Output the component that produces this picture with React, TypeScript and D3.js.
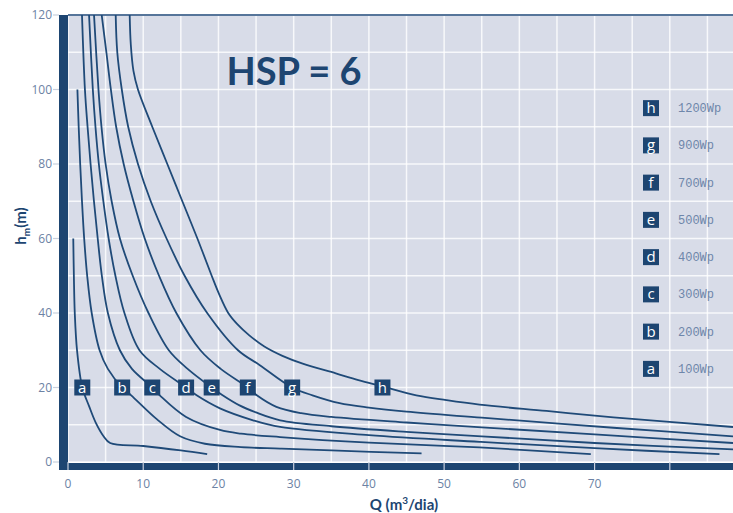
import * as d3 from "d3";

const WIDTH = 733;
const HEIGHT = 513;
const MARGIN = {top: 15, right: 0, bottom: 51, left: 68};

const NAVY = "#1d4571";
const LINE = "#1f4a78";
const BG = "#d8dce8";
const TICK_TEXT = "#6c82a4";

const Q_MAX = 88.4;
const H_MAX = 120;

const Q_TICKS = [0, 10, 20, 30, 40, 50, 60, 70];
const H_TICKS = [0, 20, 40, 60, 80, 100, 120];

const CURVE_KEYS = ["a", "b", "c", "d", "e", "f", "g", "h"];
const POWER_LABELS = ["100Wp", "200Wp", "300Wp", "400Wp", "500Wp", "700Wp", "900Wp", "1200Wp"];
const LABEL_Q = [1.9, 7.2, 11.2, 15.7, 19.1, 23.9, 29.8, 41.8];
const LABEL_H = 20;
const LEGEND_H = [25, 35, 45, 55, 65, 75, 85, 95];

// [Q (m3/dia), h (m)]
const curveA = [[0.7, 60], [0.78, 50], [0.9, 40], [1.2, 30], [1.9, 20], [2.8, 15], [3.7, 10.5], [4.7, 7], [5.6, 5.1], [10, 4.3], [15, 3.1], [18.5, 2.1]];
const curveB = [[1.25, 100], [1.42, 90], [1.62, 80], [1.86, 70], [2.15, 60], [2.55, 50], [3.15, 40], [4.2, 30], [5.3, 25], [7.2, 20], [8.4, 17.9], [11.8, 11.5], [14.9, 6.9], [18.2, 4.9], [23, 4.0], [28.2, 3.6], [35, 3.1], [47, 2.3]];
const curveC = [[1.86, 120], [2.25, 100], [2.6, 90], [3.0, 80], [3.45, 70], [3.95, 60], [4.5, 50], [5.3, 40], [6.9, 30], [8.5, 25], [11.2, 20], [12.2, 17.9], [15.7, 12.1], [20.2, 8.6], [23, 7.6], [28.2, 6.7], [40, 5.2], [54.7, 3.9], [69.5, 2.1]];
const curveD = [[2.8, 120], [3.3, 100], [3.65, 90], [4.1, 80], [4.7, 70], [5.4, 60], [6.3, 50], [7.5, 40], [9.5, 30], [12.2, 25], [15.7, 20], [17.1, 17.9], [20.2, 14.4], [24.6, 11.2], [28.2, 9.4], [40, 7.2], [54.7, 5.4], [70, 3.7], [86.6, 2.1]];
const curveE = [[3.46, 120], [4.05, 100], [4.45, 90], [5.0, 80], [5.8, 70], [6.9, 60], [8.6, 50], [10.7, 40], [13.4, 30], [15.9, 25], [19.1, 20], [20.5, 18], [22.8, 15.2], [25, 13.3], [28.2, 11.2], [35, 9.6], [45, 8.1], [55, 6.9], [70, 5.1], [88.4, 3.4]];
const curveF = [[4.48, 120], [5.1, 110], [5.7, 100], [6.4, 90], [7.4, 80], [8.7, 70], [10.2, 60], [12.1, 50], [14.4, 40], [17.6, 30], [20.3, 25], [23.9, 20], [25.1, 17.9], [27.7, 14.8], [31, 13.1], [35, 12.1], [45, 10.6], [55, 9.3], [70, 7.4], [88.4, 5.1]];
const curveG = [[6.34, 120], [6.55, 110], [7.15, 100], [8.0, 90], [9.3, 80], [11.0, 70], [13.1, 60], [15.5, 50], [18.5, 40], [22.6, 30], [25.5, 26], [29.8, 20], [32.5, 17.9], [36.1, 15.8], [40, 14.6], [45, 13.5], [55, 11.9], [72.5, 9.2], [88.4, 6.9]];
const curveH = [[8.2, 120], [8.35, 112], [8.7, 105], [9.3, 100], [11.2, 90], [13.2, 80], [15.2, 70], [17.2, 60], [19.1, 50], [20.1, 45], [21.3, 40], [22.5, 37], [24.1, 34], [26.1, 31], [28.5, 28.5], [31.2, 26.4], [35.6, 23.8], [38.6, 22], [41.8, 20.3], [46.3, 17.9], [50.3, 16.6], [54.7, 15.4], [63.6, 13.7], [72.5, 12.0], [88.4, 9.4]];

const CURVES = [curveA, curveB, curveC, curveD, curveE, curveF, curveG, curveH];

const App = () => {
    const x = d3.scaleLinear().domain([0, Q_MAX]).range([MARGIN.left, WIDTH - MARGIN.right]);
    const y = d3.scaleLinear().domain([0, H_MAX]).range([HEIGHT - MARGIN.bottom, MARGIN.top]);

    const line = d3.line()
        .x(d => x(d[0]))
        .y(d => y(d[1]))
        .curve(d3.curveCatmullRom.alpha(0.5));

    const left = MARGIN.left;
    const right = WIDTH - MARGIN.right;
    const top = MARGIN.top;
    const bottom = HEIGHT - MARGIN.bottom;

    return (
        <svg width={WIDTH} height={HEIGHT} style={{position: "absolute", left: 0, top: 0, background: "#fff"}}>
            <defs>
                <clipPath id="plot-clip">
                    <rect x={left} y={top} width={right - left} height={bottom - top}/>
                </clipPath>
            </defs>
            <rect x={left} y={top} width={right - left} height={bottom - top} fill={BG}/>

            {/* grid */}
            {d3.range(0, Q_MAX, 5).map(v => (
                <line key={"gx" + v} x1={x(v)} x2={x(v)} y1={top} y2={bottom} stroke="#fff" strokeOpacity={0.8} strokeWidth={1.5}/>
            ))}
            {d3.range(0, H_MAX, 10).map(v => (
                <line key={"gy" + v} x1={left} x2={right} y1={y(v)} y2={y(v)} stroke="#fff" strokeOpacity={0.8} strokeWidth={1.5}/>
            ))}

            <line x1={left} x2={right} y1={top} y2={top} stroke="#56759a" strokeWidth={2}/>

            {/* axis bars */}
            <rect x={left - 9} y={top} width={9} height={bottom + 8 - top} fill={NAVY}/>
            <rect x={left - 9} y={bottom + 1} width={right - left + 9} height={7} fill={NAVY}/>
            {d3.range(0, Q_MAX, 10).map(v => (
                <line key={"tx" + v} x1={x(v)} x2={x(v)} y1={bottom} y2={bottom + 8} stroke="#c9d0de" strokeWidth={1.2}/>
            ))}
            {H_TICKS.map(v => (
                <line key={"ty" + v} x1={left - 15} x2={left - 9} y1={y(v)} y2={y(v)} stroke="#c9d0de" strokeWidth={1.2}/>
            ))}

            {/* tick labels */}
            {Q_TICKS.map(v => (
                <text key={"lx" + v} x={x(v)} y={bottom + 26} textAnchor="middle" fontSize={12}
                      fontFamily="Open Sans" fill={TICK_TEXT}>{v}</text>
            ))}
            {H_TICKS.map(v => (
                <text key={"ly" + v} x={left - 16} y={y(v) + 4} textAnchor="end" fontSize={12}
                      fontFamily="Open Sans" fill={TICK_TEXT}>{v}</text>
            ))}

            {/* curves */}
            <g clipPath="url(#plot-clip)">
                {CURVES.map((c, i) => (
                    <path key={"c" + i} d={line(c)} fill="none" stroke={LINE} strokeWidth={1.8}/>
                ))}
            </g>

            {/* curve tags */}
            {CURVE_KEYS.map((k, i) => (
                <g key={"tag" + k} transform={`translate(${x(LABEL_Q[i])},${y(LABEL_H)})`}>
                    <rect x={-8} y={-8} width={16} height={16} fill={NAVY}/>
                    <text y={5} textAnchor="middle" fontSize={15} fontFamily="Open Sans" fill="#fff">{k}</text>
                </g>
            ))}

            {/* legend */}
            {CURVE_KEYS.map((k, i) => (
                <g key={"leg" + k} transform={`translate(651,${y(LEGEND_H[i])})`}>
                    <rect x={-8} y={-8} width={16} height={16} fill={NAVY}/>
                    <text y={5} textAnchor="middle" fontSize={15} fontFamily="Open Sans" fill="#fff">{k}</text>
                    <text x={27} y={4} fontSize={12} fontFamily="Liberation Mono" fill="#6e86aa">{POWER_LABELS[i]}</text>
                </g>
            ))}

            <text x={294} y={85} textAnchor="middle" fontSize={38} fontWeight="bold" fontFamily="Lato"
                  fill={NAVY}>HSP = 6</text>

            <text x={404} y={510} textAnchor="middle" fontSize={15} fontWeight="bold" fontFamily="Lato" fill={NAVY}>
                Q (m<tspan dy={-6} fontSize={10}>3</tspan><tspan dy={6}>/dia)</tspan>
            </text>
            <text transform="translate(26,226) rotate(-90)" textAnchor="middle" fontSize={15} fontWeight="bold"
                  fontFamily="Lato" fill={NAVY}>
                h<tspan dy={4} fontSize={10}>m</tspan><tspan dy={-4}>(m)</tspan>
            </text>
        </svg>
    );
};

export default App;
